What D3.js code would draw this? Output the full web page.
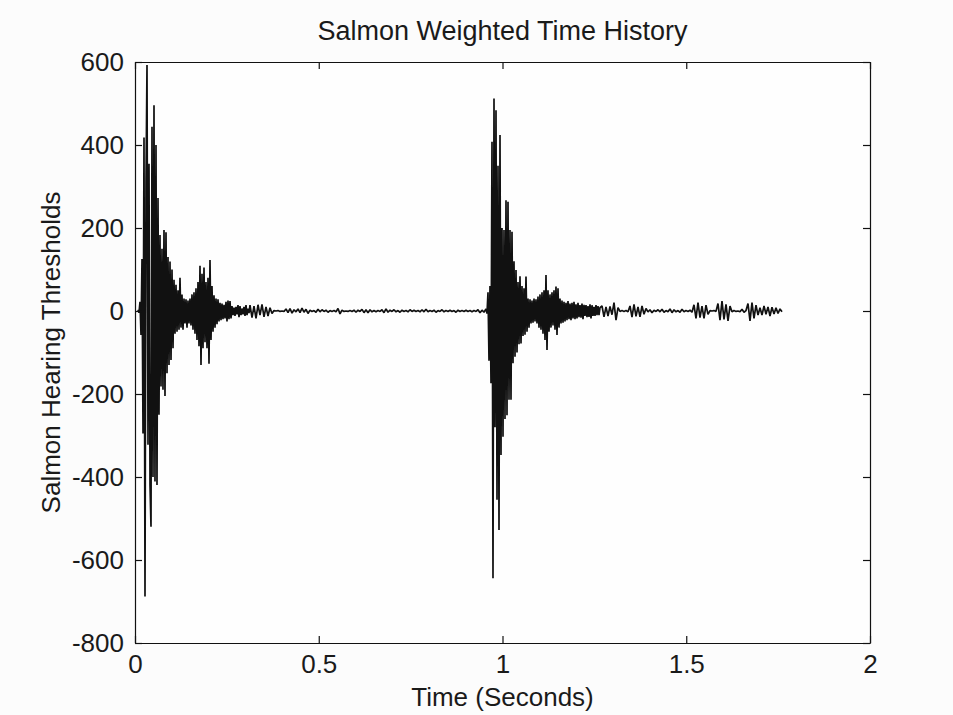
<!DOCTYPE html>
<html>
<head>
<meta charset="utf-8">
<script src="https://cdn.jsdelivr.net/npm/d3@7"></script>
<style>
  html, body { margin: 0; padding: 0; background: #fcfcfc; }
  svg { display: block; }
  text { font-family: "Liberation Sans", Arial, Helvetica, sans-serif; fill: #1a1a1a; }
</style>
</head>
<body>
<div id="chart"></div>
<script>
// ---------------- DATA ----------------
const chartTitle = "Salmon Weighted Time History";
const xLabel = "Time (Seconds)";
const yLabel = "Salmon Hearing Thresholds";

const xTickValues = [0, 0.5, 1, 1.5, 2];
const xTickLabels = ["0", "0.5", "1", "1.5", "2"];
const yTickValues = [600, 400, 200, 0, -200, -400, -600, -800];
const yTickLabels = ["600", "400", "200", "0", "-200", "-400", "-600", "-800"];

// First burst (seconds / sample spacing)
const burst1Start = 0.00816;
const burst1Step = 0.002721;
const burst1Values = [
  3, -4, 22, -58, 125, -295, 418, -688, 310, 593,
  -322, 355, -418, -520, 444, -400, 496, -411, 400, -419,
  272, -250, 183, -182, 150, -190, 195, -205, 190, -150,
  130, -130, 119, -118, 100, -90, 75, -55, 63, -50,
  50, -45, 80, -40, 40, -45, 30, -30, 28, -40,
  25, -30, 30, -35, 40, -45, 45, -55, 55, -70,
  70, -85, 109, -130, 90, -90, 105, -75, 70, -90,
  80, -127, 123, -70, 60, -50, 38, -40, 30, -32,
  28, -25, 20, -22, 18, -20, 15, -18, 22, -25,
  25, -20, 24, -18, 12, -10, 8, -12, 10, -8,
  14, -15, 12, -10, 6, -8, 10, -12, 14, -10,
  6, -5
];

// Quiet stretch between bursts
const quiet1Start = 0.31293;
const quiet1Step = 0.005442;
const quiet1Values = [
  14, -16, 12, -18, 15, -10, 16, -14, 10, -12, 8, -6,
  1, 0, 1, -1, 0, -1,
  5, -4, 6, -5, 3, -2, 5, -4, 7, -3, 4, -6, 2, -1, 1, -3, 4, -2, 3, -1, 2, -3, 1,
  -1, 1, -2, 6, -7, 2, -1, 0, -1, 1, -1, 2, -3, 2, -1, 4, -4, 3, -4, 3, -2, 1, -2, 1, -1,
  3, -4, 5, -3, 2, -1, 3, -2, 1, -3, 2, -1, 1, -2, 3, -1, 2, -1, 1, -2, 3, -2, 4, -2, 1,
  -1, 2, -3, 1, -1, 3, -2, 1, -1, 2, -1, 1, -3, 2, -1, 1, -1, 2, -1, 1, -2, 1, -1, 3, -4, 2, -3
];

// Second burst
const burst2Start = 0.95510;
const burst2Step = 0.002721;
const burst2Values = [
  5, -6, 45, -120, 60, -174, 408, -644, 512, -280,
  484, -455, 350, -528, 424, -347, 200, -303, 195, -260,
  267, -251, 263, -214, 195, -214, 191, -126, 120, -110,
  99, -100, 70, -80, 84, -78, 60, -60, 55, -57,
  83, -50, 30, -40, 28, -30, 25, -28, 30, -25,
  28, -30, 35, -40, 40, -45, 45, -55, 50, -70,
  87, -94, 50, -50, 40, -40, 45, -35, 50, -45,
  59, -58, 55, -40, 30, -30, 25, -28, 22, -25,
  20, -22, 24, -20, 18, -22, 20, -18, 22, -20,
  16, -18, 20, -15, 14, -16, 18, -20, 15, -12,
  14, -15, 12, -14, 16, -18, 14, -12, 10, -12,
  14, -10, 12, -10, 8
];

// Decaying tail after the second burst
const tail2Start = 1.27075;
const tail2Step = 0.005442;
const tail2Values = [
  12, -14, 10, -12, 11, -9,
  20, -22, 8,
  -1, 1, -1, 1, -2,
  12, -15, 16, -13, 10, -14, 12, -8, 6,
  -2, 3, -4, 2, -1, 3, -2, 4, -3, 1, -2, 5, -4, 3, -2, 1, -3, 4, -2, 1, -1, 2, -3,
  15, -18, 20, -16, 12, -18, 14, -8,
  1, 0, 1, -1,
  18, -22, 24, -20, 16, -24, 12,
  -2, 1, -1, 0, -2, 4, -3, 1,
  18, -24, 20, -18, 14, -10,
  8, -10, 12, -8, 10, -12, 9, -7, 8, -6, 5, -2
];

// ---------------- CHART ----------------
const W = 953, H = 715;
const margin = { top: 62, right: 83, bottom: 72, left: 135 };
const iw = W - margin.left - margin.right;
const ih = H - margin.top - margin.bottom;

function toPoints(start, step, vals) {
  return vals.map((v, i) => ({ t: start + i * step, v: v }));
}
const series = []
  .concat(toPoints(burst1Start, burst1Step, burst1Values))
  .concat(toPoints(quiet1Start, quiet1Step, quiet1Values))
  .concat(toPoints(burst2Start, burst2Step, burst2Values))
  .concat(toPoints(tail2Start, tail2Step, tail2Values));

const svg = d3.select("#chart").append("svg")
  .attr("width", W).attr("height", H);

svg.append("rect").attr("width", W).attr("height", H).attr("fill", "#fcfcfc");

const g = svg.append("g").attr("transform", `translate(${margin.left},${margin.top})`);

const x = d3.scaleLinear().domain([0, 2]).range([0, iw]);
const y = d3.scaleLinear().domain([-800, 600]).range([ih, 0]);

g.append("rect").attr("width", iw).attr("height", ih).attr("fill", "#fefefe");

const line = d3.line().x(d => x(d.t)).y(d => y(d.v));
g.append("path")
  .datum(series)
  .attr("fill", "none")
  .attr("stroke", "#111")
  .attr("stroke-width", 1.7)
  .attr("stroke-linejoin", "bevel")
  .attr("d", line);

const fontSize = 26;
const tickLen = 7;

const xAxis = d3.axisBottom(x).tickValues(xTickValues)
  .tickFormat((d, i) => xTickLabels[i]).tickSizeInner(-tickLen).tickSizeOuter(0).tickPadding(12);
const yAxis = d3.axisLeft(y).tickValues(yTickValues)
  .tickFormat((d, i) => yTickLabels[i]).tickSizeInner(-tickLen).tickSizeOuter(0).tickPadding(11);
const xAxisTop = d3.axisTop(x).tickValues(xTickValues)
  .tickFormat("").tickSizeInner(-tickLen).tickSizeOuter(0);
const yAxisRight = d3.axisRight(y).tickValues(yTickValues)
  .tickFormat("").tickSizeInner(-tickLen).tickSizeOuter(0);

function styleAxis(sel) {
  sel.selectAll("path").attr("stroke", "#111").attr("stroke-width", 1.2);
  sel.selectAll("line").attr("stroke", "#111").attr("stroke-width", 1.2);
  sel.selectAll("text").style("font-size", fontSize + "px").attr("fill", "#1a1a1a");
  sel.attr("font-family", null);
}

g.append("g").attr("transform", `translate(0,${ih})`).call(xAxis).call(styleAxis);
g.append("g").call(yAxis).call(styleAxis);
g.append("g").call(xAxisTop).call(styleAxis);
g.append("g").attr("transform", `translate(${iw},0)`).call(yAxisRight).call(styleAxis);

// Title
svg.append("text")
  .attr("x", margin.left + iw / 2).attr("y", 40)
  .attr("text-anchor", "middle")
  .style("font-size", "27px")
  .text(chartTitle);

// X label
svg.append("text")
  .attr("x", margin.left + iw / 2).attr("y", 706)
  .attr("text-anchor", "middle")
  .style("font-size", "26px")
  .text(xLabel);

// Y label
svg.append("text")
  .attr("transform", `translate(60,${margin.top + ih / 2}) rotate(-90)`)
  .attr("text-anchor", "middle")
  .style("font-size", "26px")
  .text(yLabel);
</script>
</body>
</html>
